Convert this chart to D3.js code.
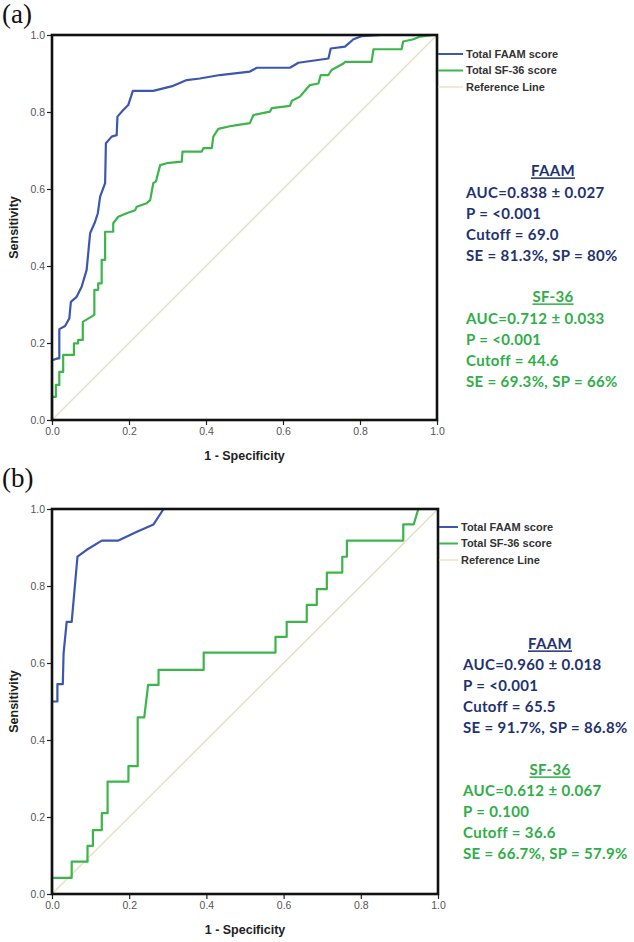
<!DOCTYPE html>
<html>
<head>
<meta charset="utf-8">
<script src="https://cdn.jsdelivr.net/npm/d3@7/dist/d3.min.js"></script>
<style>
  html, body { margin: 0; padding: 0; background: #fff; }
  svg { display: block; }
</style>
</head>
<body>
<svg id="chart" width="634" height="942"></svg>
<script>
// ---------- DATA ----------
const tickValues = [0, 0.2, 0.4, 0.6, 0.8, 1.0];
const legendLabels = ["Total FAAM score", "Total SF-36 score", "Reference Line"];
const xTitle = "1 - Specificity";
const yTitle = "Sensitivity";

// Panel (a) ROC curves: [1 - specificity, sensitivity]
const faamA = [[0,0],[0,0.155],[0.015,0.16],[0.019,0.16],[0.019,0.236],[0.034,0.244],[0.045,0.264],[0.049,0.307],[0.064,0.32],[0.077,0.346],[0.09,0.39],[0.099,0.485],[0.112,0.515],[0.119,0.537],[0.125,0.58],[0.138,0.615],[0.14,0.719],[0.155,0.736],[0.168,0.74],[0.17,0.788],[0.185,0.805],[0.198,0.818],[0.21,0.855],[0.263,0.855],[0.315,0.868],[0.35,0.883],[0.384,0.887],[0.436,0.896],[0.514,0.905],[0.532,0.915],[0.618,0.915],[0.64,0.928],[0.718,0.939],[0.724,0.965],[0.761,0.97],[0.783,0.989],[0.804,0.997],[0.856,1.0],[1,1]];
const sf36A = [[0,0],[0,0.06],[0.01,0.06],[0.01,0.091],[0.019,0.091],[0.019,0.125],[0.029,0.125],[0.029,0.169],[0.057,0.169],[0.057,0.199],[0.068,0.199],[0.068,0.208],[0.08,0.208],[0.08,0.255],[0.11,0.273],[0.11,0.338],[0.12,0.338],[0.12,0.355],[0.129,0.355],[0.129,0.416],[0.138,0.416],[0.138,0.489],[0.159,0.489],[0.159,0.511],[0.172,0.528],[0.194,0.537],[0.216,0.545],[0.22,0.554],[0.246,0.563],[0.255,0.571],[0.263,0.615],[0.27,0.62],[0.281,0.662],[0.298,0.667],[0.337,0.671],[0.339,0.697],[0.389,0.697],[0.393,0.706],[0.415,0.706],[0.419,0.736],[0.432,0.756],[0.462,0.763],[0.48,0.766],[0.514,0.771],[0.523,0.792],[0.566,0.801],[0.571,0.81],[0.618,0.816],[0.623,0.829],[0.644,0.84],[0.662,0.861],[0.67,0.87],[0.692,0.874],[0.698,0.896],[0.718,0.896],[0.726,0.909],[0.757,0.926],[0.761,0.93],[0.83,0.93],[0.835,0.963],[0.908,0.963],[0.912,0.983],[0.939,0.989],[0.956,0.996],[0.99,1.0],[1,1]];

// Panel (b) ROC curves
const faamB = [[0,0],[0,0.5],[0.014,0.5],[0.014,0.545],[0.028,0.545],[0.03,0.625],[0.038,0.707],[0.051,0.707],[0.066,0.876],[0.09,0.894],[0.129,0.918],[0.172,0.918],[0.22,0.941],[0.263,0.96],[0.289,1.0],[1,1]];
const sf36B = [[0,0],[0,0.042],[0.051,0.042],[0.051,0.084],[0.092,0.084],[0.092,0.125],[0.106,0.125],[0.106,0.166],[0.129,0.166],[0.129,0.21],[0.144,0.21],[0.144,0.292],[0.198,0.292],[0.198,0.332],[0.222,0.332],[0.222,0.459],[0.239,0.459],[0.249,0.543],[0.276,0.543],[0.276,0.582],[0.393,0.582],[0.393,0.627],[0.579,0.627],[0.579,0.668],[0.608,0.668],[0.608,0.707],[0.66,0.707],[0.66,0.751],[0.686,0.751],[0.686,0.792],[0.712,0.792],[0.712,0.835],[0.752,0.835],[0.752,0.876],[0.764,0.876],[0.764,0.918],[0.91,0.918],[0.91,0.96],[0.937,0.96],[0.949,1.0],[1,1]];

const referenceLine = [[0,0],[1,1]];

// Annotation texts
const annotA_faam = ["FAAM", "AUC=0.838 \u00b1 0.027", "P = <0.001", "Cutoff = 69.0", "SE = 81.3%, SP = 80%"];
const annotA_sf36 = ["SF-36", "AUC=0.712 \u00b1 0.033", "P = <0.001", "Cutoff = 44.6", "SE = 69.3%, SP = 66%"];
const annotB_faam = ["FAAM", "AUC=0.960 \u00b1 0.018", "P = <0.001", "Cutoff = 65.5", "SE = 91.7%, SP = 86.8%"];
const annotB_sf36 = ["SF-36", "AUC=0.612 \u00b1 0.067", "P = 0.100", "Cutoff = 36.6", "SE = 66.7%, SP = 57.9%"];

// ---------- STYLE ----------
const colFaam = "#3d57b0";
const colSf = "#3cb54a";
const colRef = "#e3dfbf";
const colFaamText = "#1f3371";
const colSfText = "#2fae48";

const svg = d3.select("#chart");

function drawPanel(opt) {
  const g = svg.append("g");
  const x = d3.scaleLinear().domain([0, 1]).range([opt.left, opt.right]);
  const y = d3.scaleLinear().domain([0, 1]).range([opt.bottom, opt.top]);

  // panel label
  g.append("text").attr("x", 2).attr("y", opt.labelY)
    .attr("font-family", "'Liberation Serif', 'Times New Roman', serif")
    .attr("font-size", 27).attr("fill", "#111").text(opt.label);

  // reference line
  const line = d3.line().x(d => x(d[0])).y(d => y(d[1]));
  g.append("path").attr("d", line(referenceLine)).attr("fill", "none")
    .attr("stroke", colRef).attr("stroke-width", 1.3);

  // curves
  g.append("path").attr("d", line(opt.sf)).attr("fill", "none")
    .attr("stroke", colSf).attr("stroke-width", 2.2).attr("stroke-linejoin", "round");
  g.append("path").attr("d", line(opt.faam)).attr("fill", "none")
    .attr("stroke", colFaam).attr("stroke-width", 2.2).attr("stroke-linejoin", "round");

  // axes
  const fmt = d3.format(".1f");
  const xAxis = g.append("g").attr("transform", `translate(0,${opt.bottom})`)
    .call(d3.axisBottom(x).tickValues(tickValues).tickFormat(fmt).tickSize(5).tickPadding(3));
  const yAxis = g.append("g").attr("transform", `translate(${opt.left},0)`)
    .call(d3.axisLeft(y).tickValues(tickValues).tickFormat(fmt).tickSize(5).tickPadding(2));
  [xAxis, yAxis].forEach(a => {
    a.select(".domain").remove();
    a.selectAll(".tick line").attr("stroke", "#222").attr("stroke-width", 1.2);
    a.selectAll(".tick text").attr("fill", "#555")
      .attr("font-family", "'Liberation Sans', Arial, sans-serif").attr("font-size", 10.5);
  });

  // frame
  g.append("rect").attr("x", opt.left).attr("y", opt.top)
    .attr("width", opt.right - opt.left).attr("height", opt.bottom - opt.top)
    .attr("fill", "none").attr("stroke", "#111").attr("stroke-width", 2.6);

  // axis titles
  g.append("text").attr("x", (opt.left + opt.right) / 2).attr("y", opt.bottom + 40)
    .attr("text-anchor", "middle").attr("font-family", "'Liberation Sans', Arial, sans-serif")
    .attr("font-weight", "bold").attr("font-size", 12.5).attr("fill", "#222").text(xTitle);
  g.append("text").attr("transform", `translate(18,${(opt.top + opt.bottom) / 2}) rotate(-90)`)
    .attr("text-anchor", "middle").attr("font-family", "'Liberation Sans', Arial, sans-serif")
    .attr("font-weight", "bold").attr("font-size", 12.5).attr("fill", "#222").text(yTitle);

  // legend
  const legCols = [colFaam, colSf, colRef];
  legendLabels.forEach((lab, i) => {
    const ly = opt.legendY + i * opt.legendStep;
    g.append("line").attr("x1", opt.right + 1).attr("x2", opt.legendTextX - 3)
      .attr("y1", ly).attr("y2", ly).attr("stroke", legCols[i])
      .attr("stroke-width", i === 2 ? 1.3 : 2);
    g.append("text").attr("x", opt.legendTextX).attr("y", ly).attr("dy", "0.36em")
      .attr("font-family", opt.legendFont).attr("font-weight", "bold")
      .attr("font-size", 11).attr("fill", "#333").text(lab);
  });

  // annotations
  function block(lines, y0, color, cx) {
    lines.forEach((t, i) => {
      const tx = g.append("text").attr("y", y0 + i * opt.annStep).attr("dy", "0.36em")
        .attr("font-family", "Lato, 'Open Sans', sans-serif").attr("font-weight", "bold")
        .attr("font-size", 15).attr("letter-spacing", 0.35).attr("fill", color).text(t);
      if (i === 0) {
        tx.attr("x", cx).attr("text-anchor", "middle").style("text-decoration", "underline");
      } else {
        tx.attr("x", opt.annX);
      }
    });
  }
  block(opt.annFaam, opt.annFaamY, colFaamText, opt.annCx);
  block(opt.annSf, opt.annSfY, colSfText, opt.annCx);
}

drawPanel({
  label: "(a)", labelY: 23,
  left: 52, right: 437, top: 35, bottom: 420,
  faam: faamA, sf: sf36A,
  legendY: 54, legendStep: 16.5, legendTextX: 466,
  legendFont: "'Liberation Sans', Arial, sans-serif",
  annX: 466, annCx: 553, annStep: 21.2,
  annFaam: annotA_faam, annFaamY: 171,
  annSf: annotA_sf36, annSfY: 297
});

drawPanel({
  label: "(b)", labelY: 487,
  left: 52, right: 438, top: 509, bottom: 894,
  faam: faamB, sf: sf36B,
  legendY: 527, legendStep: 16.5, legendTextX: 461,
  legendFont: "'Liberation Sans Narrow', 'Arial Narrow', 'Liberation Sans', sans-serif",
  annX: 463, annCx: 550, annStep: 21,
  annFaam: annotB_faam, annFaamY: 644,
  annSf: annotB_sf36, annSfY: 770
});
</script>
</body>
</html>
